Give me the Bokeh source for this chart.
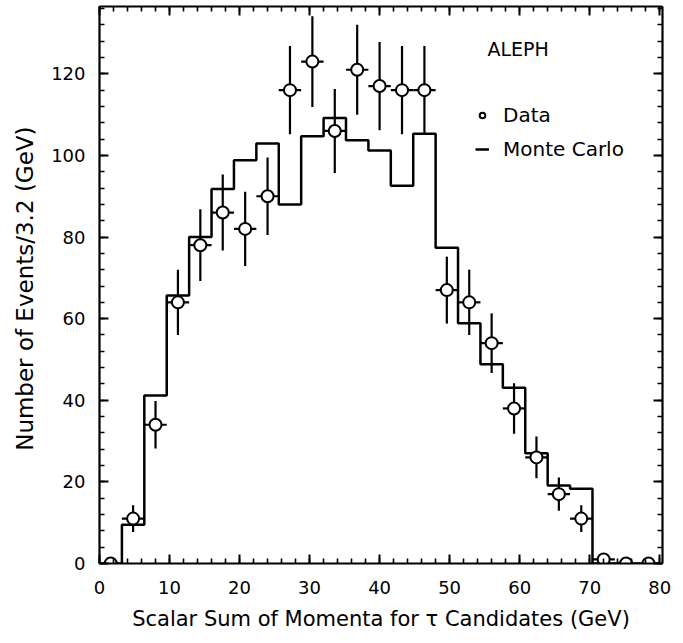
import numpy as np
from bokeh.plotting import figure
from bokeh.models import (Range1d, LinearAxis, FixedTicker, Legend, LegendItem, Label, ColumnDataSource)
from bokeh.embed import file_html
from bokeh.resources import INLINE

# ---- data ----
bin_width = 3.2
bin_edges = [round(i * 3.2, 1) for i in range(26)]
bin_centers = [round(1.6 + i * 3.2, 1) for i in range(25)]
data_counts = [0, 11, 34, 64, 78, 86, 82, 90, 116, 123, 106, 121, 117, 116, 116,
               67, 64, 54, 38, 26, 17, 11, 1, 0, 0]
data_errors = [0, 3.3, 5.8, 8.0, 8.8, 9.3, 9.1, 9.5, 10.8, 11.1, 10.3, 11.0, 10.8, 10.8, 10.8,
               8.2, 8.0, 7.3, 6.2, 5.1, 4.1, 3.3, 1.0, 0, 0]
mc_counts = [0, 9.5, 41.2, 65.7, 80, 91.8, 98.8, 102.9, 88, 104.7, 109.2, 103.7, 101.2, 92.6, 105.3,
             77.4, 58.9, 48.8, 43.1, 27, 19.1, 18.3, 0, 0, 0]
x_ticks = [0, 10, 20, 30, 40, 50, 60, 70, 80]
y_ticks = [0, 20, 40, 60, 80, 100, 120]

FONT = "DejaVu Sans"

p = figure(width=683, height=643, output_backend="svg", toolbar_location=None,
           x_range=Range1d(0, 80.4), y_range=Range1d(0, 136.5),
           min_border_left=99, min_border_right=21, min_border_top=6, min_border_bottom=80)
p.xgrid.visible = False
p.ygrid.visible = False
p.outline_line_color = None
p.background_fill_color = "white"
p.border_fill_color = "white"

# MC histogram as step
step_x = bin_edges
step_y = mc_counts + [mc_counts[-1]]
mc_r = p.step(x=step_x, y=step_y, mode="after", line_color="black", line_width=2.5)

# data points with error bars
xc = np.array(bin_centers)
yc = np.array(data_counts, dtype=float)
ye = np.array(data_errors, dtype=float)
hw = np.where(yc > 0, bin_width / 2, 0.0)
src = ColumnDataSource(dict(x=xc, y=yc, ylo=yc - ye, yhi=yc + ye, xlo=xc - hw, xhi=xc + hw))
p.segment(x0="x", y0="ylo", x1="x", y1="yhi", source=src, line_color="black", line_width=2.2)
p.segment(x0="xlo", y0="y", x1="xhi", y1="y", source=src, line_color="black", line_width=2.2)
data_r = p.scatter(x="x", y="y", source=src, marker="circle", size=12,
                   fill_color="white", line_color="black", line_width=2)

# axes styling
def style_axis(ax, ticks, minor, labels=True):
    ax.ticker = FixedTicker(ticks=ticks, minor_ticks=minor)
    ax.axis_line_width = 2.2
    ax.axis_line_color = "black"
    ax.major_tick_in = 9
    ax.major_tick_out = 0
    ax.minor_tick_in = 5
    ax.minor_tick_out = 0
    ax.major_tick_line_width = 2
    ax.minor_tick_line_width = 1.6
    ax.major_label_text_font = FONT
    ax.major_label_text_font_size = "18px"
    ax.major_label_text_color = "black"
    ax.axis_label_text_font = FONT
    ax.axis_label_text_font_style = "normal"
    ax.axis_label_text_color = "black"
    if not labels:
        ax.major_label_overrides = {t: "" for t in ticks}

x_minor = [i * 2 for i in range(41)]
y_minor = [i * 4 for i in range(35)]

style_axis(p.xaxis[0], x_ticks, x_minor)
style_axis(p.yaxis[0], y_ticks, y_minor)
p.xaxis[0].axis_label = "Scalar Sum of Momenta for \u03c4 Candidates (GeV)"
p.yaxis[0].axis_label = "Number of Events/3.2  (GeV)"
p.xaxis[0].axis_label_text_font_size = "21px"
p.yaxis[0].axis_label_text_font_size = "23px"
p.xaxis[0].major_label_standoff = 17
p.yaxis[0].major_label_standoff = 14
p.xaxis[0].axis_label_standoff = 10
p.yaxis[0].axis_label_standoff = 10

top_ax = LinearAxis()
style_axis(top_ax, x_ticks, x_minor, labels=False)
p.add_layout(top_ax, "above")
right_ax = LinearAxis()
style_axis(right_ax, y_ticks, y_minor, labels=False)
p.add_layout(right_ax, "right")

# annotation
p.add_layout(Label(x=55.4, y=126, text="ALEPH", text_font=FONT, text_font_size="19px",
                   text_color="black", text_align="left", text_baseline="middle"))

legend = Legend(items=[LegendItem(label="Data", renderers=[data_r]),
                       LegendItem(label="Monte Carlo", renderers=[mc_r])],
                location=(372, 398), orientation="vertical")
legend.label_text_font = FONT
legend.label_text_font_size = "20px"
legend.label_text_color = "black"
legend.border_line_alpha = 0
legend.background_fill_alpha = 0
legend.glyph_width = 14
legend.glyph_height = 22
legend.label_standoff = 14
legend.spacing = 10
legend.padding = 4
legend.margin = 0
p.add_layout(legend, "center")

open("out.html", "w").write(file_html(p, INLINE))
